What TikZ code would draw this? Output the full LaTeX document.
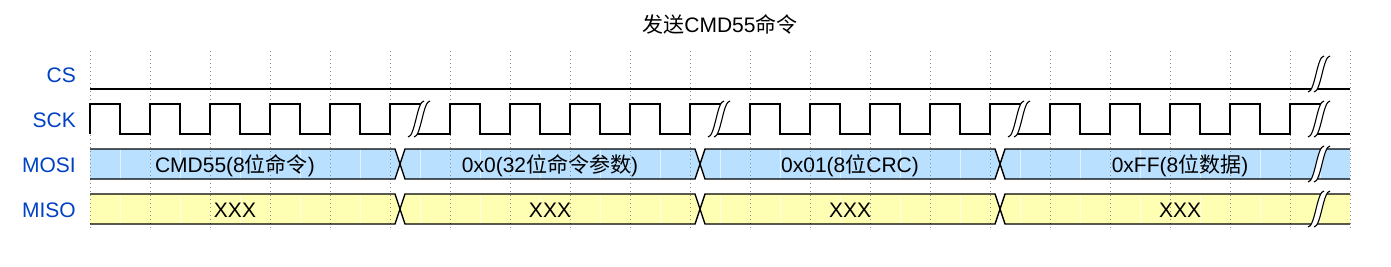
\documentclass[tikz,border=0pt]{standalone}
\usepackage{fontspec}
\setmainfont{Liberation Sans}
\newfontfamily\cjk{Noto Sans CJK SC}
\definecolor{lbl}{HTML}{0041C4}
\definecolor{mosifill}{HTML}{B9E0FF}
\definecolor{misofill}{HTML}{FFFFB4}
\tikzset{
  sig/.style={line width=1.4pt, line join=miter},
  gridline/.style={black!45, line width=0.8pt, dash pattern=on 0.8pt off 3.2pt},
  lbltext/.style={anchor=base east, text=lbl, font=\fontsize{21}{25}\selectfont, inner sep=0pt},
  datatext/.style={anchor=base, font=\fontsize{21}{25}\selectfont, inner sep=0pt},
  seam/.style={white, opacity=0.6, line width=0.8pt},
  gapline/.style={line width=1.1pt}
}
\newcommand\gapmark[3]{%
  \fill[white] (#1-12,#3) .. controls (#1-5,#3) and (#1-3,#2) .. (#1+4,#2) -- (#1+10,#2) .. controls (#1+3,#2) and (#1+1,#3) .. (#1-6,#3) -- cycle;
  \draw[gapline] (#1-12,#3) .. controls (#1-5,#3) and (#1-3,#2) .. (#1+4,#2);
  \draw[gapline] (#1-6,#3) .. controls (#1+1,#3) and (#1+3,#2) .. (#1+10,#2);
}
\begin{document}
\begin{tikzpicture}[x=1pt,y=-1pt]
\useasboundingbox (0,0) rectangle (1391,266);
% title
\node[datatext] (title) at (720,32) {{\cjk 发送}CMD55{\cjk 命令}};
% labels
\node[lbltext] (lcs) at (76,82) {CS};
\node[lbltext] (lsck) at (76,127) {SCK};
\node[lbltext] (lmosi) at (76,172) {MOSI};
\node[lbltext] (lmiso) at (76,217) {MISO};
% fills MOSI
\fill[mosifill] (90,149) -- (395,149) -- (400,164) -- (395,179) -- (90,179) -- cycle;
\fill[mosifill] (405,149) -- (695,149) -- (700,164) -- (695,179) -- (405,179) -- (400,164) -- cycle;
\fill[mosifill] (705,149) -- (995,149) -- (1000,164) -- (995,179) -- (705,179) -- (700,164) -- cycle;
\fill[mosifill] (1005,149) -- (1350,149) -- (1350,179) -- (1005,179) -- (1000,164) -- cycle;
% fills MISO
\fill[misofill] (90,194) -- (395,194) -- (400,209) -- (395,224) -- (90,224) -- cycle;
\fill[misofill] (405,194) -- (695,194) -- (700,209) -- (695,224) -- (405,224) -- (400,209) -- cycle;
\fill[misofill] (705,194) -- (995,194) -- (1000,209) -- (995,224) -- (705,224) -- (700,209) -- cycle;
\fill[misofill] (1005,194) -- (1350,194) -- (1350,224) -- (1005,224) -- (1000,209) -- cycle;
% seams
\foreach \x in {120,180,...,1320} {
  \draw[seam] (\x,150) -- (\x,178);
  \draw[seam] (\x,195) -- (\x,223);
}
% grid
\foreach \x in {90,150,...,1350} {
  \draw[gridline] (\x,51) -- (\x,228);
}
% CS
\draw[sig] (90,89) -- (1350,89);
% SCK
\draw[sig] (90,134) \foreach \p in {90,150,...,330} { -- (\p,104) -- (\p+30,104) -- (\p+30,134) -- (\p+60,134) } -- (390,104) -- (424,104);
\draw[sig] (414,134) -- (450,134) \foreach \p in {450,510,...,630} { -- (\p,104) -- (\p+30,104) -- (\p+30,134) -- (\p+60,134) } -- (690,104) -- (724,104);
\draw[sig] (714,134) -- (750,134) \foreach \p in {750,810,...,930} { -- (\p,104) -- (\p+30,104) -- (\p+30,134) -- (\p+60,134) } -- (990,104) -- (1024,104);
\draw[sig] (1014,134) -- (1050,134) \foreach \p in {1050,1110,...,1230} { -- (\p,104) -- (\p+30,104) -- (\p+30,134) -- (\p+60,134) } -- (1290,104) -- (1324,104);
\draw[sig] (1314,134) -- (1350,134);
% MOSI lines
\draw[sig] (90,149) -- (395,149) -- (405,179) -- (695,179) -- (705,149) -- (995,149) -- (1005,179) -- (1350,179);
\draw[sig] (90,179) -- (395,179) -- (405,149) -- (695,149) -- (705,179) -- (995,179) -- (1005,149) -- (1350,149);
% MISO lines
\draw[sig] (90,194) -- (395,194) -- (405,224) -- (695,224) -- (705,194) -- (995,194) -- (1005,224) -- (1350,224);
\draw[sig] (90,224) -- (395,224) -- (405,194) -- (695,194) -- (705,224) -- (995,224) -- (1005,194) -- (1350,194);
% data texts
\node[datatext] (m1) at (235,172) {CMD55(8{\cjk 位命令})};
\node[datatext] (m2) at (550,172) {0x0(32{\cjk 位命令参数})};
\node[datatext] (m3) at (850,172) {0x01(8{\cjk 位}CRC)};
\node[datatext] (m4) at (1180,172) {0xFF(8{\cjk 位数据})};
\node[datatext] (s1) at (235,217) {XXX};
\node[datatext] (s2) at (550,217) {XXX};
\node[datatext] (s3) at (850,217) {XXX};
\node[datatext] (s4) at (1180,217) {XXX};
% gaps
\gapmark{420}{101}{137}
\gapmark{720}{101}{137}
\gapmark{1020}{101}{137}
\gapmark{1320}{56}{92}
\gapmark{1320}{101}{137}
\gapmark{1320}{146}{182}
\gapmark{1320}{191}{227}
\end{tikzpicture}
\end{document}
